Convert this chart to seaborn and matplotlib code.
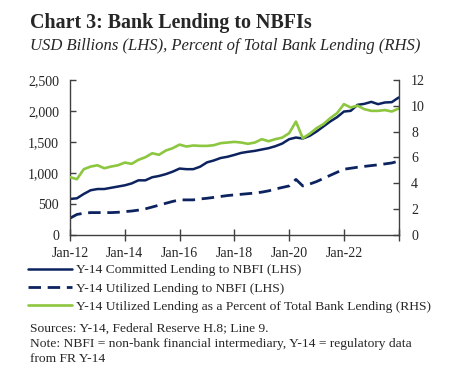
import pandas as pd
import matplotlib
matplotlib.use("Agg")
import matplotlib.pyplot as plt
import seaborn as sns

# quarterly data, Jan-12 to Jan-24
fechas = pd.date_range("2012-01-01", periods=49, freq="QS")

comprometido = [580, 590, 660, 720,
                740, 740, 760, 780,
                800, 830, 880, 880,
                930, 950, 980, 1020,
                1070, 1060, 1060, 1100,
                1170, 1200, 1240, 1260,
                1290, 1322, 1340, 1355,
                1377, 1398, 1430, 1473,
                1543, 1570, 1554, 1597,
                1667, 1747, 1828, 1898,
                1989, 2000, 2097, 2113,
                2145, 2108, 2135, 2140,
                2215]

utilizado = [270, 330, 350, 360,
             360, 360, 360, 365,
             376, 385, 400, 420,
             450, 480, 510, 540,
             565, 565, 565, 580,
             591, 605, 620, 635,
             645, 655, 665, 675,
             690, 710, 740, 765,
             790, 895, 790, 820,
             860, 910, 960, 1010,
             1059, 1075, 1091, 1105,
             1118, 1130, 1145, 1160,
             1190]

porcentaje = [4.47, 4.31, 5.08, 5.29,
              5.39, 5.16, 5.29, 5.39,
              5.60, 5.50, 5.81, 6.01,
              6.32, 6.20, 6.53, 6.71,
              6.99, 6.84, 6.92, 6.89,
              6.89, 6.94, 7.10, 7.15,
              7.20, 7.15, 7.05, 7.15,
              7.41, 7.25, 7.41, 7.53,
              7.87, 8.77, 7.48, 7.83,
              8.26, 8.57, 9.03, 9.42,
              10.12, 9.86, 10.00, 9.73,
              9.60, 9.60, 9.66, 9.55,
              9.78]

etiquetas = ["Y-14 Committed Lending to NBFI (LHS)",
             "Y-14 Utilized Lending to NBFI (LHS)",
             "Y-14 Utilized Lending as a Percent of Total Bank Lending (RHS)"]

df = pd.DataFrame({"fecha": fechas, "comprometido": comprometido,
                   "utilizado": utilizado, "porcentaje": porcentaje})

sns.set_style("white")
plt.rcParams["font.family"] = ["Liberation Serif", "DejaVu Serif"]

azul = "#0d2360"
verde = "#8dc63f"

fig = plt.figure(figsize=(4.52, 3.82), dpi=100)
ax = fig.add_axes([0.155, 0.385, 0.727, 0.406])
ax2 = ax.twinx()

sns.lineplot(data=df, x="fecha", y="comprometido", ax=ax, color=azul, linewidth=1.8)
sns.lineplot(data=df, x="fecha", y="utilizado", ax=ax, color=azul, linewidth=2.0)
ax.lines[1].set_dashes([4.5, 2.4])
sns.lineplot(data=df, x="fecha", y="porcentaje", ax=ax2, color=verde, linewidth=1.9)

ax.set_ylim(0, 2500)
ax.set_yticks(range(0, 2501, 500))
ax.set_yticklabels([f"{v:,}" for v in range(0, 2501, 500)])
ax2.set_ylim(0, 12)
ax2.set_yticks(range(0, 13, 2))

ticks_x = pd.date_range("2012-01-01", "2024-01-01", freq="2YS")
ax.set_xlim(pd.Timestamp("2012-01-01"), pd.Timestamp("2024-01-01"))
ax.set_xticks(ticks_x)
ax.set_xticklabels([t.strftime("Jan-%y") for t in ticks_x[:-1]] + [""])

ax.set_xlabel("")
ax.set_ylabel("")
ax2.set_ylabel("")

for a in (ax, ax2):
    for s in a.spines.values():
        s.set_visible(False)
ax.spines["left"].set_visible(True)
ax.spines["bottom"].set_visible(True)
ax2.spines["right"].set_visible(True)
for s in (ax.spines["left"], ax.spines["bottom"], ax2.spines["right"]):
    s.set_color("#404040")
    s.set_linewidth(1.0)

ax.tick_params(axis="y", direction="in", length=4, width=1, color="#404040", labelsize=10, pad=8, left=True)
ax.tick_params(axis="x", direction="inout", length=8, width=1, color="#404040", labelsize=10, pad=5, bottom=True)
ax2.tick_params(axis="y", direction="in", length=4, width=1, color="#404040", labelsize=10, pad=9, right=True)

# titulo y subtitulo
fig.text(30 / 452, 1 - 23 / 382, "Chart 3: Bank Lending to NBFIs", fontsize=14.4, fontweight="bold", va="center")
fig.text(30 / 452, 1 - 46 / 382, "USD Billions (LHS), Percent of Total Bank Lending (RHS)",
         fontsize=12, fontstyle="italic", va="center")

# leyenda
h = [ax.lines[0], ax.lines[1], ax2.lines[0]]
fig.legend(h, etiquetas, loc="upper left", bbox_to_anchor=(28 / 452, 1 - 264 / 382),
           frameon=False, fontsize=9.7, handlelength=3.3, handletextpad=0.3,
           labelspacing=0.42, borderaxespad=0, borderpad=0)

fig.text(30 / 452, 1 - 329 / 382, "Sources: Y-14, Federal Reserve H.8; Line 9.", fontsize=9.7, va="center")
fig.text(30 / 452, 1 - 344 / 382, "Note: NBFI = non-bank financial intermediary, Y-14 = regulatory data",
         fontsize=9.7, va="center")
fig.text(30 / 452, 1 - 359 / 382, "from FR Y-14", fontsize=9.7, va="center")

fig.savefig("out.png", dpi=100)
